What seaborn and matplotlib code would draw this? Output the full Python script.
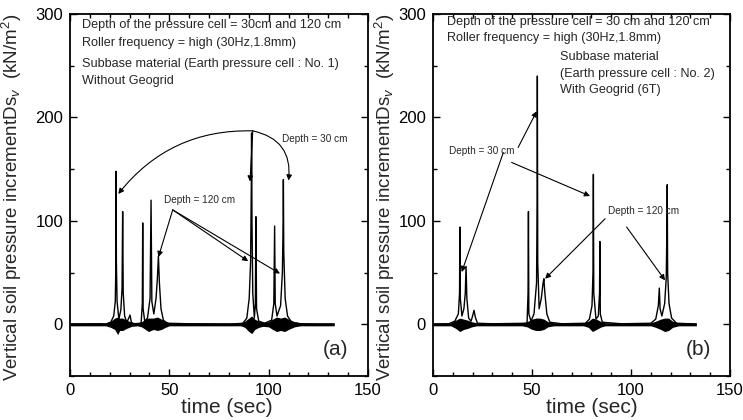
import matplotlib
matplotlib.use("Agg")
import matplotlib.pyplot as plt
from matplotlib.ticker import MultipleLocator
import seaborn as sns

# ---------------- data: panel (a) (without geogrid) ----------------
t_a = [0, 15, 18, 20.5, 22.0, 22.8, 23.1, 23.2, 23.35, 23.7, 24.6, 25.6, 26.2, 26.5, 26.8,
       27.5, 28.6, 29.6, 30.2, 30.9, 32, 35.8, 36.4, 36.6, 36.8, 37.6, 39, 40.3, 40.8, 41.2,
       42.2, 43.3, 44.0, 44.5, 45.0, 45.8, 47, 49, 60, 80, 87, 89.0, 90.2, 90.9, 91.3, 91.4,
       91.6, 92.0, 92.8, 93.3, 93.6, 93.9, 95, 98, 101.5, 102.6, 103.0, 103.3, 104.2, 106.0,
       106.9, 107.3, 107.4, 107.6, 108.3, 109.5, 111.5, 116, 125, 133]
v_a = [0, 0.5, 0, 2, 8, 22, 60, 148, 60, 22, 5, 14, 35, 109, 30,
       8, 2, 6, 9, 2, 0.5, 1, 20, 98, 15, 3, 6, 25, 120, 22,
       10, 25, 45, 66, 40, 15, 4, 1, 0.5, 0, 1, 6, 25, 60, 140, 185,
       100, 30, 6, 20, 104, 15, 3, 1, 4, 20, 95, 20, 8, 18,
       50, 100, 140, 70, 25, 8, 2, 0.5, 0, 0]
env_t_a = [0, 18, 20.5, 22.5, 24.0, 25.0, 26.5, 28.5, 31, 34, 36, 38, 39.5, 42, 44, 46, 48, 50,
           86, 88, 90, 91.5, 93, 95, 97, 100, 102, 104, 106, 108, 110, 113, 116, 133]
env_lo_a = [-1.5, -1.5, -3, -5, -10, -6, -6, -4, -2, -1.5, -2.5, -5, -7, -5, -6, -5, -3, -1.5,
            -1.5, -3, -7, -9, -5, -3, -2, -2.5, -5, -7, -6, -7, -5, -2.5, -1.5, -1.5]
env_hi_a = [1.5, 1.5, 3, 6, 7, 6, 6, 4, 2, 1.5, 2.5, 5, 6, 6, 7, 5, 3, 1.5,
            1.5, 3, 6, 8, 5, 3, 2, 2.5, 5, 7, 6, 7, 5, 2.5, 1.5, 1.5]

# ---------------- data: panel (b) (with geogrid) ----------------
t_b = [0, 8, 11, 12.8, 13.4, 13.6, 13.8, 14.6, 15.6, 16.3, 16.7, 17.1, 18.0, 19.2, 20.0,
       20.7, 21.5, 22.5, 30, 47.5, 48.0, 48.2, 48.4, 49.5, 51.0, 52.3, 52.6, 52.7, 52.9,
       53.6, 54.7, 55.6, 56.0, 56.5, 57.5, 59, 65, 77, 79, 80.3, 80.8, 81.0, 81.2, 82.3,
       83.5, 84.1, 84.3, 84.5, 85.5, 95, 110, 112.5, 113.8, 114.3, 114.7, 115.6, 117.0,
       117.8, 118.2, 118.3, 118.5, 119.2, 120.5, 123, 130, 133]
v_b = [0, 0.5, 3, 10, 30, 94, 25, 8, 15, 30, 56, 25, 6, 3, 8,
       13.5, 6, 1, 0.5, 1, 30, 109, 10, 3, 10, 40, 120, 240, 60,
       15, 25, 40, 44, 30, 10, 2, 0.5, 1, 5, 18, 50, 145, 30, 5,
       8, 30, 80, 10, 2, 0.5, 1, 5, 18, 35, 15, 8, 20,
       45, 100, 135, 50, 20, 6, 1, 0.5, 0]
env_t_b = [0, 9, 11.5, 13.5, 15.5, 17.5, 19.5, 22, 25, 45, 47.5, 50, 52, 54, 56, 58, 61,
           76, 78.5, 80.5, 82.5, 85, 87, 110, 112.5, 115, 117, 119, 121, 124, 133]
env_lo_b = [-1.5, -1.5, -4, -7, -5, -4, -2.5, -1.5, -1.5, -1.5, -2.5, -5, -6, -6, -5, -2.5, -1.5,
            -1.5, -3, -7, -5, -2.5, -1.5, -1.5, -3, -5, -7, -6, -3, -1.5, -1.5]
env_hi_b = [1.5, 1.5, 4, 6, 5, 4, 2.5, 1.5, 1.5, 1.5, 2.5, 5, 6, 6, 5, 2.5, 1.5,
            1.5, 3, 6, 5, 2.5, 1.5, 1.5, 3, 5, 6, 6, 3, 1.5, 1.5]

x_ticks = [0, 50, 100, 150]
y_ticks = [0, 100, 200, 300]
x_label = "time (sec)"
y_label = "Vertical soil pressure incrementDs$_v$  (kN/m$^2$)"

notes_a = ["Depth of the pressure cell = 30cm and 120 cm",
           "Roller frequency = high (30Hz,1.8mm)",
           "Subbase material (Earth pressure cell : No. 1)",
           "Without Geogrid"]
notes_b_top = ["Depth of the pressure cell = 30 cm and 120 cm",
               "Roller frequency = high (30Hz,1.8mm)"]
notes_b_right = ["Subbase material",
                 "(Earth pressure cell : No. 2)",
                 "With Geogrid (6T)"]

# ---------------- style ----------------
sns.set_theme(style="ticks")
plt.rcParams['font.family'] = ['Liberation Sans', 'DejaVu Sans']
plt.rcParams['mathtext.fontset'] = 'custom'
plt.rcParams['mathtext.rm'] = 'Liberation Sans'
plt.rcParams['mathtext.it'] = 'Liberation Sans:italic'

fig = plt.figure(figsize=(7.43, 4.2), dpi=100)
fig.patch.set_facecolor('white')
ax_a = fig.add_axes([70 / 743, 44 / 420, 298 / 743, 362 / 420])
ax_b = fig.add_axes([433 / 743, 44 / 420, 297 / 743, 362 / 420])


def draw(ax, t, v, et, elo, ehi, tag, label_x, xlabel_x):
    ax.fill_between(et, elo, ehi, color='black', linewidth=0)
    sns.lineplot(x=t, y=v, ax=ax, color='black', linewidth=1.0, estimator=None)
    ax.set_xlim(0, 150)
    ax.set_ylim(-50, 300)
    ax.set_xticks(x_ticks)
    ax.set_yticks(y_ticks)
    ax.xaxis.set_minor_locator(MultipleLocator(10))
    ax.yaxis.set_minor_locator(MultipleLocator(50))
    ax.tick_params(which='both', direction='in', top=True, right=True,
                   labelsize=12, colors='black', pad=5)
    ax.tick_params(which='major', length=5, width=1)
    ax.tick_params(which='minor', length=3, width=1)
    for s in ax.spines.values():
        s.set_linewidth(1.3)
        s.set_color('black')
    ax.set_xlabel(x_label, fontsize=15)
    ax.xaxis.set_label_coords(xlabel_x, -0.088)
    ax.xaxis.label.set_va('center')
    ax.set_ylabel(y_label, fontsize=13.5)
    ax.yaxis.set_label_coords(label_x, 0.494)
    ax.text(0.935, 0.072, tag, transform=ax.transAxes, ha='right', va='center', fontsize=15)


draw(ax_a, t_a, v_a, env_t_a, env_lo_a, env_hi_a, "(a)", -0.154, 0.527)
draw(ax_b, t_b, v_b, env_t_b, env_lo_b, env_hi_b, "(b)", -0.121, 0.535)

note_fs = 9.1
small_fs = 7.2
ap = dict(arrowstyle='-|>', color='black', lw=0.8, mutation_scale=8, shrinkA=0, shrinkB=0)

# panel (a) notes
for txt, yv in zip(notes_a, [289, 271.5, 251.5, 235.5]):
    ax_a.text(5.9, yv, txt, fontsize=note_fs, va='center', ha='left')
ax_a.text(106.5, 179, "Depth = 30 cm", fontsize=small_fs, va='center', ha='left')
ax_a.text(47.5, 120, "Depth = 120 cm", fontsize=small_fs, va='center', ha='left')
ax_a.annotate("", xy=(24.3, 126), xytext=(92, 187),
              arrowprops=dict(ap, connectionstyle="arc3,rad=0.25"))
ax_a.annotate("", xy=(90.6, 138), xytext=(92, 187), arrowprops=ap)
ax_a.annotate("", xy=(110, 139), xytext=(92, 187),
              arrowprops=dict(ap, connectionstyle="arc3,rad=-0.45"))
ax_a.annotate("", xy=(44.5, 65), xytext=(51.7, 110.6), arrowprops=ap)
ax_a.annotate("", xy=(89.7, 61), xytext=(51.7, 110.6), arrowprops=ap)
ax_a.annotate("", xy=(105.7, 49), xytext=(51.7, 110.6), arrowprops=ap)

# panel (b) notes
for txt, yv in zip(notes_b_top, [292, 276.5]):
    ax_b.text(7.2, yv, txt, fontsize=note_fs, va='center', ha='left')
for txt, yv in zip(notes_b_right, [258, 242, 227]):
    ax_b.text(64, yv, txt, fontsize=note_fs, va='center', ha='left')
ax_b.text(8, 168, "Depth = 30 cm", fontsize=small_fs, va='center', ha='left')
ax_b.text(88.5, 110, "Depth = 120 cm", fontsize=small_fs, va='center', ha='left')
ax_b.annotate("", xy=(14.5, 50.5), xytext=(35.5, 166), arrowprops=ap)
ax_b.annotate("", xy=(52.4, 206), xytext=(43, 171), arrowprops=ap)
ax_b.annotate("", xy=(79.3, 124), xytext=(39.7, 156.5), arrowprops=ap)
ax_b.annotate("", xy=(56.6, 44), xytext=(86.9, 102), arrowprops=ap)
ax_b.annotate("", xy=(117.2, 42.5), xytext=(97.8, 94), arrowprops=ap)

fig.savefig("out.png", dpi=100, facecolor='white')
